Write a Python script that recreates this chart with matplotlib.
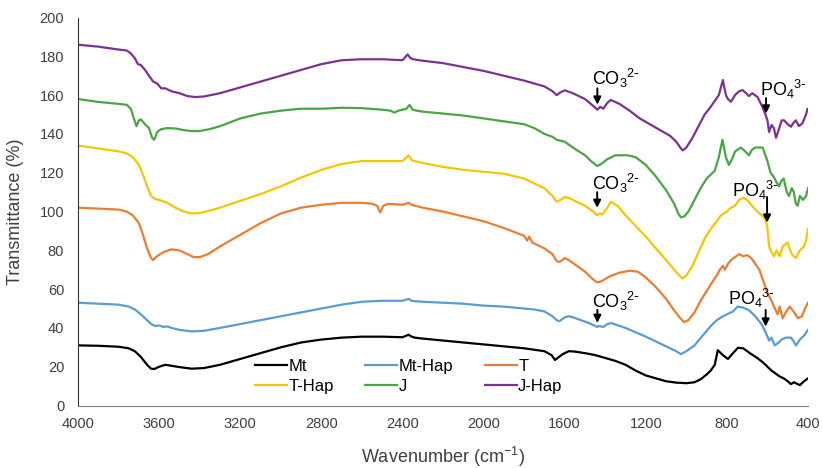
import matplotlib
matplotlib.use("Agg")
import matplotlib.pyplot as plt

# FTIR spectra (wavenumber in cm-1, transmittance in %)
mt_wn = [4000, 3900, 3800, 3750, 3720, 3690, 3660, 3640, 3625, 3600, 3570, 3540, 3500, 3440,
         3380, 3300, 3200, 3100, 3000, 2900, 2800, 2700, 2600, 2500, 2400, 2370, 2355, 2340,
         2300, 2200, 2100, 2000, 1900, 1800, 1700, 1665, 1648, 1635, 1610, 1580, 1550, 1500,
         1450, 1400, 1350, 1300, 1250, 1200, 1150, 1100, 1050, 1000, 960, 930, 900, 880, 860,
         845, 820, 795, 770, 745, 720, 700, 680, 650, 620, 600, 580, 560, 540, 520, 500, 484,
         470, 460, 440, 420, 400]
mt_val = [31, 30.8, 30.3, 29.5, 28, 25, 21, 19, 18.8, 20, 21, 20.5, 19.8, 19,
          19.3, 21, 24, 27, 30, 32.5, 34, 35, 35.5, 35.5, 35.2, 36.5, 35.5, 35,
          34.5, 33.5, 32.5, 31.5, 30.5, 29.5, 28, 26, 23.5, 24.5, 26.5, 28, 27.8, 27,
          26, 24.5, 23, 21, 18, 15.5, 14, 12.5, 11.8, 11.5, 12, 13.5, 16, 18, 21,
          28.5, 26, 24, 27, 29.8, 29.5, 28, 26.5, 24.5, 22, 20, 18, 16.5, 15, 14, 12.5, 11,
          12, 11.5, 10.5, 12.5, 14]

mthap_wn = [4000, 3900, 3800, 3750, 3720, 3690, 3660, 3640, 3620, 3600, 3580, 3560, 3540, 3500,
            3440, 3380, 3300, 3200, 3100, 3000, 2900, 2800, 2700, 2600, 2500, 2400, 2370, 2355,
            2340, 2300, 2200, 2100, 2000, 1900, 1800, 1750, 1700, 1660, 1640, 1625, 1600, 1580,
            1560, 1520, 1480, 1450, 1440, 1430, 1410, 1390, 1370, 1300, 1200, 1100, 1050, 1027,
            1000, 960, 920, 880, 850, 820, 790, 770, 747, 720, 690, 660, 630, 610, 592, 580,
            565, 550, 530, 510, 484, 470, 460, 440, 420, 400]
mthap_val = [53, 52.5, 52, 51, 49.5, 47, 44, 42, 41, 41.3, 40.5, 40.8, 40, 39,
             38.2, 38.5, 40, 42, 44, 46, 48, 50, 52, 53.5, 54, 54, 55, 54,
             53.8, 53.5, 53, 52.5, 51.5, 51, 50, 49.5, 48.5, 46, 44, 43.5, 45.5, 46,
             45.5, 44, 42.5, 41, 40.5, 41, 40.5, 42, 42.5, 40, 35.5, 30.5, 28, 26.5,
             28, 31, 36, 41, 44, 46, 47.5, 48.5, 51, 50.5, 49, 46, 42, 38, 33.5, 35,
             31, 32, 34, 35, 35, 33, 31, 34, 36, 39]

t_wn = [4000, 3900, 3800, 3760, 3730, 3700, 3680, 3660, 3640, 3630, 3610, 3580, 3540, 3500,
        3460, 3430, 3400, 3360, 3300, 3200, 3100, 3000, 2900, 2800, 2700, 2600, 2550, 2525,
        2510, 2495, 2470, 2400, 2370, 2355, 2340, 2300, 2200, 2100, 2000, 1900, 1800, 1785,
        1775, 1760, 1700, 1660, 1640, 1625, 1600, 1580, 1540, 1500, 1460, 1440, 1420, 1380,
        1330, 1280, 1240, 1200, 1150, 1100, 1060, 1030, 1012, 990, 960, 930, 900, 870, 850,
        835, 820, 810, 795, 780, 760, 740, 720, 700, 680, 660, 640, 620, 600, 580, 568, 550,
        540, 525, 510, 490, 468, 450, 430, 415, 400]
t_val = [102, 101.5, 101, 100, 98, 94, 88, 81, 76, 75, 77, 79, 80.5, 80,
         78, 76.5, 76.5, 78, 82, 88, 94, 99, 102, 103.5, 104.5, 104.5, 104, 103,
         99.5, 103, 104, 103.5, 104.5, 103.5, 103, 102, 100, 97.5, 95, 91.5, 87.5, 85,
         87, 84, 81, 78, 74.5, 74, 76, 75, 72, 69, 65, 63.5, 64, 66.5,
         68.5, 69.5, 69, 66, 61, 55, 49, 45, 43, 44, 48, 54, 59, 64, 67,
         70, 72, 70, 73, 75, 76.5, 78, 77, 77.5, 76, 73, 70, 64, 58, 54, 51, 47,
         51, 45, 48, 51, 48, 45, 46, 50, 53]

thap_wn = [4000, 3900, 3800, 3760, 3730, 3700, 3680, 3660, 3640, 3620, 3600, 3560, 3520, 3480,
           3440, 3400, 3350, 3300, 3200, 3100, 3000, 2900, 2800, 2700, 2600, 2500, 2400, 2370,
           2355, 2340, 2300, 2200, 2100, 2000, 1900, 1800, 1700, 1660, 1640, 1620, 1600, 1580,
           1540, 1500, 1460, 1440, 1430, 1415, 1390, 1373, 1340, 1300, 1250, 1200, 1150, 1100,
           1060, 1035, 1019, 1000, 970, 940, 910, 880, 850, 830, 800, 780, 760, 740, 723, 700,
           680, 660, 640, 617, 602, 592, 580, 568, 555, 540, 525, 501, 480, 460, 440, 420,
           410, 400]
thap_val = [134, 132.5, 131, 130, 128, 124, 119, 113, 108, 106.5, 106, 104.5, 102, 100,
            99, 99.2, 100.5, 102, 105.5, 109, 113, 117.5, 121.5, 124.5, 126, 126, 126, 129,
            126.5, 126, 125, 123, 121.5, 120.5, 119.5, 117, 112, 108, 105, 106, 107.5, 107,
            105, 103, 100, 98, 99, 98.5, 102, 105, 103, 98, 92.5, 87, 81, 75,
            70, 67, 65.5, 67, 72, 79, 86, 91, 95, 98, 100, 102, 103, 106, 107, 106,
            103.5, 101, 99, 97, 93, 82, 79, 77, 80, 77, 82, 84, 78, 76, 80, 82,
            85, 91]

j_wn = [4000, 3900, 3800, 3760, 3740, 3725, 3712, 3700, 3690, 3670, 3650, 3635, 3625, 3610,
        3590, 3560, 3520, 3480, 3440, 3400, 3350, 3300, 3200, 3100, 3000, 2900, 2800, 2700,
        2600, 2500, 2460, 2440, 2420, 2380, 2365, 2350, 2330, 2300, 2200, 2100, 2000, 1900,
        1800, 1750, 1700, 1660, 1640, 1620, 1600, 1560, 1500, 1470, 1440, 1420, 1390, 1350,
        1290, 1250, 1200, 1150, 1100, 1060, 1040, 1027, 1010, 990, 960, 930, 900, 880, 860,
        840, 822, 805, 790, 775, 760, 731, 710, 692, 675, 660, 624, 600, 585, 570, 555, 543,
        530, 520, 505, 494, 480, 470, 460, 451, 440, 425, 410, 400]
j_val = [158, 156.5, 155.5, 155, 153, 148, 144, 147, 147.5, 145, 143, 138, 137, 141,
         142.5, 143, 142.8, 142, 141.5, 141.5, 142.5, 144, 148, 150.5, 152, 153, 153, 153.5,
         153.3, 152.5, 152, 151, 152, 153, 155, 152.5, 152, 151.5, 150.5, 149.5, 148, 146.5,
         145, 143, 140, 138.5, 137, 136.5, 136, 133, 129, 126, 123.5, 124.5, 127, 129,
         129, 128, 124, 118, 111, 104, 99, 97, 97.5, 100, 106, 112, 117, 119, 121,
         128, 137, 128, 124, 127, 131, 133, 131, 129, 132, 133, 133, 126, 120, 118, 115, 113,
         116, 117, 110, 108, 112, 110, 104, 103, 108, 106, 108, 112]

jhap_wn = [4000, 3900, 3800, 3760, 3740, 3720, 3705, 3690, 3670, 3650, 3630, 3610, 3590, 3570,
           3540, 3500, 3460, 3420, 3380, 3300, 3200, 3100, 3000, 2900, 2800, 2700, 2600, 2500,
           2400, 2375, 2360, 2345, 2320, 2200, 2100, 2000, 1900, 1800, 1750, 1700, 1660, 1640,
           1620, 1600, 1560, 1500, 1460, 1439, 1425, 1410, 1390, 1373, 1330, 1280, 1230, 1180,
           1130, 1080, 1050, 1030, 1019, 1000, 970, 940, 910, 880, 860, 840, 820, 805, 795,
           780, 760, 740, 723, 705, 692, 675, 649, 625, 610, 600, 592, 580, 568, 558, 545,
           530, 518, 500, 484, 470, 460, 445, 427, 410, 402, 400]
jhap_val = [186, 185, 183.5, 183, 181.5, 179, 176, 175.5, 173, 170, 167, 166, 163.5, 163.5,
            162, 161, 159.5, 159, 159.3, 161, 164, 167, 170, 173, 176, 178, 178.5, 178.5,
            178, 181, 179, 178.5, 178, 176.5, 174.5, 172.5, 170, 167.5, 166, 164.5, 162, 160,
            161.5, 162.5, 161, 158, 154.5, 152.5, 154, 153, 156, 157.5, 155.5, 152, 148, 145,
            142, 139, 136, 133, 131.5, 133, 138, 144, 150, 154, 157, 160, 167.8, 160, 158,
            156.6, 160, 162, 162.6, 161, 159.5, 161, 159, 154, 150, 147, 141, 144.6, 143, 138, 142,
            147, 147, 145, 143.7, 146, 147, 144, 145.6, 150, 153, 152]

series = [
    ("Mt", mt_wn, mt_val, "#000000"),
    ("Mt-Hap", mthap_wn, mthap_val, "#5B9BD5"),
    ("T", t_wn, t_val, "#ED7D31"),
    ("T-Hap", thap_wn, thap_val, "#F7C600"),
    ("J", j_wn, j_val, "#4AA545"),
    ("J-Hap", jhap_wn, jhap_val, "#7B3294"),
]

# band labels: (text, text x, text y, arrow x, arrow tail y, arrow tip y)
co3 = r"CO$_3{}^{2\text{-}}$"
po4 = r"PO$_4{}^{3\text{-}}$"
band_labels = [
    (co3, 1467, 165.4, 1439, 163.5, 155.1),
    (co3, 1467, 111.2, 1440, 110.0, 101.9),
    (co3, 1467, 50.3, 1439, 49.3, 42.6),
    (po4, 637, 159.4, 607, 158.5, 150.5),
    (po4, 776, 107.6, 602, 107.5, 94.3),
    (po4, 795, 51.9, 609, 49.3, 40.7),
]

plt.rcParams["font.family"] = ["Liberation Sans", "DejaVu Sans"]
plt.rcParams["mathtext.default"] = "regular"

fig = plt.figure(figsize=(8.22, 4.68), dpi=100)
ax = fig.add_axes([0.095, 0.1335, 0.888, 0.829])

lines = {}
for name, wn, val, color in series:
    lines[name], = ax.plot(wn, val, color=color, lw=1.6, label=name)

for text, tx, ty, axx, y0, y1 in band_labels:
    ax.text(tx, ty, text, fontsize=13, ha="left", va="baseline", color="black")
    ax.annotate("", xy=(axx, y1), xytext=(axx, y0),
                arrowprops=dict(arrowstyle="-|>", color="black", lw=1.4,
                                mutation_scale=11, shrinkA=0, shrinkB=0))

ax.set_xlim(4000, 400)
ax.set_ylim(0, 200)
ax.set_xticks(range(4000, 399, -400))
ax.set_yticks(range(0, 201, 20))
ax.tick_params(length=0, labelsize=10.5, labelcolor="#404040", pad=8)
ax.tick_params(axis="y", pad=10)

for side in ("top", "right"):
    ax.spines[side].set_visible(False)
ax.spines["left"].set_color("#333333")
ax.spines["bottom"].set_color("#808080")

ax.set_xlabel("Wavenumber (cm$^{-1}$)", fontsize=13, color="#404040", labelpad=10)
ax.set_ylabel("Transmittance (%)", fontsize=13, color="#404040", labelpad=11)

# legend fills column by column, so order handles to read row-wise
order = ["Mt", "T-Hap", "Mt-Hap", "J", "T", "J-Hap"]
ax.legend([lines[n] for n in order], order, loc="center", bbox_to_anchor=(0.453, 0.074),
          ncol=3, frameon=False, fontsize=12, handlelength=1.9, handletextpad=0.1,
          columnspacing=1.9, labelspacing=0.3, borderpad=0)

fig.savefig("out.png", dpi=100)
